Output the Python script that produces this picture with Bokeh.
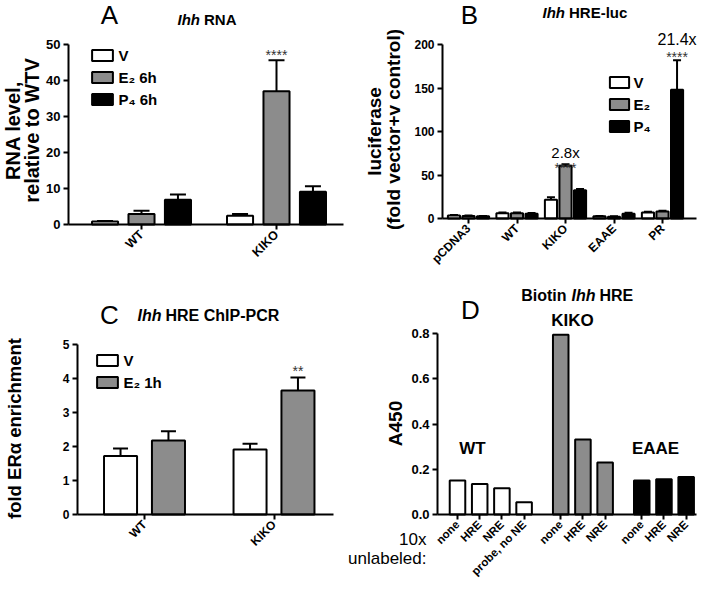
import math
from bokeh.plotting import figure
from bokeh.models import (Range1d, FixedTicker, Label, Whisker, TeeHead,
                          ColumnDataSource, PrintfTickFormatter)
from bokeh.layouts import column, row
from bokeh.embed import file_html
from bokeh.resources import INLINE

FONT = "Liberation Sans"
WHITE, GRAY, BLACK = "#ffffff", "#8c8c8c", "#000000"

# ---------------- data ----------------
# Panel A: Ihh RNA
a_groups = ["WT", "KIKO"]
a_labels = ["V", "E\u2082 6h", "P\u2084 6h"]
a_v = [0.8, 2.4]
a_v_up = [0.95, 2.9]
a_e2 = [2.9, 37.0]
a_e2_up = [3.8, 45.6]
a_p4 = [6.9, 9.1]
a_p4_up = [8.3, 10.6]
a_yticks = [0, 10, 20, 30, 40, 50]

# Panel B: Ihh HRE-luc
b_groups = ["pCDNA3", "WT", "KIKO", "EAAE", "PR"]
b_labels = ["V", "E\u2082", "P\u2084"]
b_v = [3.5, 6.0, 21.5, 2.5, 7.0]
b_v_up = [4.0, 6.8, 24.5, 3.0, 7.8]
b_e2 = [3.0, 6.0, 60.5, 2.0, 8.0]
b_e2_up = [3.5, 6.8, 62.5, 2.5, 9.0]
b_p4 = [2.5, 5.5, 32.5, 5.5, 148.0]
b_p4_up = [3.0, 6.2, 34.0, 6.5, 182.0]
b_yticks = [0, 50, 100, 150, 200]

# Panel C: Ihh HRE ChIP-PCR
c_groups = ["WT", "KIKO"]
c_labels = ["V", "E\u2082 1h"]
c_v = [1.72, 1.91]
c_v_up = [1.94, 2.08]
c_e2 = [2.18, 3.65]
c_e2_up = [2.45, 4.03]
c_yticks = [0, 1, 2, 3, 4, 5]

# Panel D: Biotin Ihh HRE
d_groups = ["WT", "KIKO", "EAAE"]
d_wt_labels = ["none", "HRE", "NRE", "probe, no NE"]
d_kiko_labels = ["none", "HRE", "NRE"]
d_eaae_labels = ["none", "HRE", "NRE"]
d_wt = [0.150, 0.135, 0.116, 0.054]
d_kiko = [0.795, 0.332, 0.230]
d_eaae = [0.150, 0.156, 0.166]
d_yticks = [0.0, 0.2, 0.4, 0.6, 0.8]


# ---------------- helpers ----------------
class Geo:
    """maps page pixels of one panel to its data space"""
    def __init__(self, fx0, fy0, W, H, xa, pxa, sx, ya, pya, yb, pyb):
        self.xa, self.pxa, self.sx = xa, pxa, sx
        self.ya, self.pya = ya, pya
        self.sy = (pya - pyb) / (yb - ya)
        self.W, self.H, self.fx0, self.fy0 = W, H, fx0, fy0
        self.xr = (self.x(fx0), self.x(fx0 + W))
        self.yr = (self.y(fy0 + H), self.y(fy0))

    def x(self, px):
        return self.xa + (px - self.pxa) / self.sx

    def y(self, py):
        return self.ya + (self.pya - py) / self.sy


def make_fig(g, axis_px, axis_end_px, ytop, yticks, xfs="12px", yfs="12px"):
    p = figure(width=g.W, height=g.H, min_border=0,
               x_range=Range1d(*g.xr), y_range=Range1d(*g.yr),
               output_backend="svg", toolbar_location=None, tools="")
    p.outline_line_color = None
    p.xgrid.visible = False
    p.ygrid.visible = False
    p.background_fill_color = "white"
    p.border_fill_color = "white"
    xa, ya = p.xaxis[0], p.yaxis[0]
    xa.fixed_location = 0
    ya.fixed_location = g.x(axis_px)
    xa.bounds = (g.x(axis_px), g.x(axis_end_px))
    ya.bounds = (0, ytop)
    ya.ticker = FixedTicker(ticks=yticks)
    for ax, fs in ((xa, xfs), (ya, yfs)):
        ax.axis_line_width = 2
        ax.axis_line_color = "black"
        ax.major_tick_line_width = 2
        ax.major_tick_line_color = "black"
        ax.major_tick_in = 0
        ax.major_tick_out = 5
        ax.minor_tick_line_color = None
        ax.major_label_text_font = FONT
        ax.major_label_text_font_size = fs
        ax.major_label_text_font_style = "bold"
        ax.major_label_text_color = "black"
        ax.major_label_standoff = 3
    return p


def put(p, g, px, py, text, size, style="bold", align="center", angle=0.0,
        color="black", x=None):
    xx = g.x(px) if x is None else x
    p.add_layout(Label(x=xx, y=g.y(py), text=text, text_font=FONT,
                       text_font_size=f"{size}px", text_font_style=style,
                       text_align=align, text_baseline="middle", angle=angle,
                       text_color=color))


def bars(p, xs, tops, ups, color, width, label=None, cap=14):
    src = ColumnDataSource(dict(x=xs, top=tops, up=ups if ups is not None else tops))
    if ups is not None:
        p.add_layout(Whisker(source=src, base="x", lower="top", upper="up",
                             dimension="height", line_width=2, line_color="black",
                             upper_head=TeeHead(size=cap, line_width=2, line_color="black"),
                             lower_head=None))
    kw = {"legend_label": label} if label else {}
    p.vbar(x="x", top="top", bottom=0, width=width, source=src,
           fill_color=color, line_color="black", line_width=2, **kw)


def style_legend(p, g, box_left_px, first_row_py, n, gw):
    # item height ~17 px (15px bold text), row pitch 22 px
    item_h, spacing = 17, 5
    lg = p.legend[0]
    top = first_row_py - item_h / 2
    bottom = top + n * item_h + (n - 1) * spacing
    lg.location = (box_left_px - gw * 0.1 - g.fx0, g.fy0 + g.H - bottom)
    lg.background_fill_alpha = 0
    lg.border_line_color = None
    lg.padding = 0
    lg.margin = 0
    lg.spacing = spacing
    lg.glyph_width = gw
    lg.glyph_height = 14
    lg.label_height = 14
    lg.label_standoff = 3
    lg.label_text_font = FONT
    lg.label_text_font_size = "15px"
    lg.label_text_font_style = "bold"
    lg.label_text_color = "black"


def x_cats(p, names, orient=math.pi / 4):
    p.xaxis[0].ticker = FixedTicker(ticks=list(range(len(names))))
    p.xaxis[0].major_label_overrides = {i: n for i, n in enumerate(names)}
    p.xaxis[0].major_label_orientation = orient


ROW1_H, ROW2_H = 272, 312

# ---------------- Panel A ----------------
gA = Geo(0, 0, 345, ROW1_H, 0, 141, 135, 0, 224, 50, 44)
pa = make_fig(gA, 68, 343, 50, a_yticks, xfs="12.5px", yfs="13px")
x_cats(pa, a_groups)
off, w = 0.27, 0.193
idx = list(range(len(a_groups)))
bars(pa, [i - off for i in idx], a_v, a_v_up, WHITE, w, a_labels[0], 16)
bars(pa, [i for i in idx], a_e2, a_e2_up, GRAY, w, a_labels[1], 16)
bars(pa, [i + off for i in idx], a_p4, a_p4_up, BLACK, w, a_labels[2], 16)
style_legend(pa, gA, 92, 55, 3, 26)
put(pa, gA, 109, 14, "A", 26, "normal")
put(pa, gA, 177, 18.5, "Ihh", 15, "bold italic", "left")
put(pa, gA, 203.5, 18.5, "RNA", 15, "bold", "left")
put(pa, gA, 12.5, 130, "RNA level,", 20, "bold", angle=math.pi / 2)
put(pa, gA, 31, 130, "relative to WTV", 20, "bold", angle=math.pi / 2)
put(pa, gA, 0, 54.5, "****", 14, "normal", color="#333333", x=1)

# ---------------- Panel B ----------------
gB = Geo(345, 0, 353, ROW1_H, 0, 468, 48.5, 0, 218, 200, 44)
pb = make_fig(gB, 442, 696, 200, b_yticks)
x_cats(pb, b_groups)
off, w = 0.3, 0.25
idx = list(range(len(b_groups)))
bars(pb, [i - off for i in idx], b_v, b_v_up, WHITE, w, b_labels[0], 8)
bars(pb, [i for i in idx], b_e2, b_e2_up, GRAY, w, b_labels[1], 8)
bars(pb, [i + off for i in idx], b_p4, b_p4_up, BLACK, w, b_labels[2], 8)
style_legend(pb, gB, 609, 82, 3, 24)
put(pb, gB, 469, 14, "B", 26, "normal")
put(pb, gB, 542, 11.5, "Ihh", 15, "bold italic", "left")
put(pb, gB, 568.5, 11.5, "HRE-luc", 15, "bold", "left")
put(pb, gB, 374, 131, "luciferase", 19, "bold", angle=math.pi / 2)
put(pb, gB, 393, 129, "(fold vector+v control)", 19, "bold", angle=math.pi / 2)
put(pb, gB, 0, 151.5, "2.8x", 15, "normal", x=2)
put(pb, gB, 0, 167, "****", 14, "normal", color="#333333", x=2)
put(pb, gB, 0, 39, "21.4x", 16, "normal", x=4 + off)
put(pb, gB, 0, 56, "****", 14, "normal", color="#333333", x=4 + off)

# ---------------- Panel C ----------------
gC = Geo(0, ROW1_H, 340, ROW2_H, 0, 144, 129.5, 0, 514, 5, 344)
pc = make_fig(gC, 77, 333, 5, c_yticks)
x_cats(pc, c_groups)
off, w = 0.185, 0.255
idx = list(range(len(c_groups)))
bars(pc, [i - off for i in idx], c_v, c_v_up, WHITE, w, c_labels[0], 15)
bars(pc, [i + off for i in idx], c_e2, c_e2_up, GRAY, w, c_labels[1], 15)
style_legend(pc, gC, 97, 360, 2, 26)
put(pc, gC, 109, 314.5, "C", 26, "normal")
put(pc, gC, 137, 315, "Ihh", 16, "bold italic", "left")
put(pc, gC, 165, 315, "HRE ChIP-PCR", 16, "bold", "left")
put(pc, gC, 14, 428, "fold ER\u03b1 enrichment", 18.5, "bold", angle=math.pi / 2)
put(pc, gC, 0, 370.5, "**", 14, "normal", color="#333333", x=1 + off)

# ---------------- Panel D ----------------
gD = Geo(340, ROW1_H, 358, ROW2_H, 0, 457, 1.11, 0, 514, 0.8, 333)
pd_ = make_fig(gD, 437, 696, 0.8, d_yticks, xfs="11.5px", yfs="13px")
pd_.yaxis[0].formatter = PrintfTickFormatter(format="%.1f")
d_sets = [(d_wt, d_wt_labels, WHITE), (d_kiko, d_kiko_labels, GRAY),
          (d_eaae, d_eaae_labels, BLACK)]
all_pos, all_lab = [], []
k = 0
for gi, (vals, labs, col) in enumerate(d_sets):
    pos = [(k + j) * 20 + gi * 13 for j in range(len(vals))]
    k += len(vals)
    bars(pd_, pos, vals, None, col, 14)
    all_pos += pos
    all_lab += labs
pd_.xaxis[0].ticker = FixedTicker(ticks=all_pos)
pd_.xaxis[0].major_label_overrides = {p_: l_ for p_, l_ in zip(all_pos, all_lab)}
pd_.xaxis[0].major_label_orientation = math.pi / 4
put(pd_, gD, 470, 309.5, "D", 26, "normal")
put(pd_, gD, 566, 294.5, "Biotin", 16, "bold", "right")
put(pd_, gD, 571, 294.5, "Ihh", 16, "bold italic", "left")
put(pd_, gD, 599, 294.5, "HRE", 16, "bold", "left")
put(pd_, gD, 395, 423, "A450", 19, "bold", angle=math.pi / 2)
put(pd_, gD, 472, 448, d_groups[0], 17, "bold")
put(pd_, gD, 572, 320, d_groups[1], 17, "bold")
put(pd_, gD, 655, 448, d_groups[2], 17, "bold")
put(pd_, gD, 426, 539, "10x", 17, "normal", "right")
put(pd_, gD, 426, 558, "unlabeled:", 17, "normal", "right")

layout = column(row(pa, pb), row(pc, pd_))
open("out.html", "w").write(file_html(layout, INLINE))
